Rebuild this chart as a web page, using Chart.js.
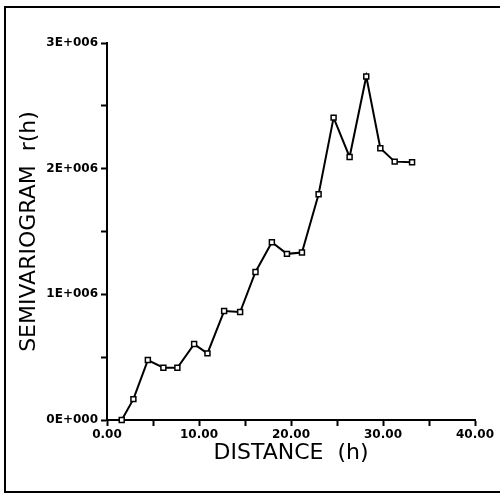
<!DOCTYPE html>
<html>
<head>
<meta charset="utf-8">
<script src="https://cdn.jsdelivr.net/npm/chart.js@4"></script>
<style>
  html, body { margin: 0; padding: 0; background: #fff; }
  canvas { display: block; }
</style>
</head>
<body>
<canvas id="semivariogram" width="500" height="496"></canvas>
<script>
// lag distances (h) and semivariogram values r(h)
const distances = [1.60, 2.87, 4.44, 6.13, 7.65, 9.47, 10.92, 12.73, 14.47, 16.14,
  17.92, 19.56, 21.19, 23.00, 24.63, 26.37, 28.18, 29.71, 31.27, 33.16];
const gammaValues = [0, 166000, 477000, 416000, 416000, 604000, 530000, 867000, 859000, 1178000,
  1415000, 1322000, 1333000, 1796000, 2406000, 2093000, 2734000, 2162000, 2056000, 2051000];

const xTitle = 'DISTANCE  (h)';
const yTitle = 'SEMIVARIOGRAM  r(h)';

const points = distances.map((d, i) => ({ x: d, y: gammaValues[i] }));

// scanned page frame (top, left, bottom edges)
const framePlugin = {
  id: 'frame',
  beforeDraw(chart) {
    const c = chart.ctx;
    c.save();
    c.fillStyle = '#fff';
    c.fillRect(0, 0, chart.width, chart.height);
    c.strokeStyle = '#000';
    c.lineWidth = 2;
    c.beginPath();
    c.moveTo(500, 7);
    c.lineTo(5, 7);
    c.lineTo(5, 492);
    c.lineTo(500, 492);
    c.stroke();
    c.restore();
  }
};

function yLabel(v) {
  if (v % 1000000 !== 0) return '';
  return (v / 1000000) + (v === 0 ? 'E+000' : 'E+006');
}

function xLabel(v) {
  if (v % 10 !== 0) return '';
  return v.toFixed(2);
}

const tickFont = { family: 'DejaVu Sans', size: 12, weight: 'bold' };
const titleFont = { family: 'DejaVu Sans', size: 22, weight: 'normal' };

new Chart(document.getElementById('semivariogram'), {
  type: 'line',
  data: {
    datasets: [{
      data: points,
      borderColor: '#000',
      borderWidth: 2,
      tension: 0,
      pointStyle: 'rect',
      pointRadius: 3.5,
      pointBackgroundColor: '#fff',
      pointBorderColor: '#000',
      pointBorderWidth: 1.5,
      clip: false
    }]
  },
  options: {
    responsive: false,
    animation: false,
    layout: { padding: { top: 43, right: 25, left: 0, bottom: 0 } },
    plugins: { legend: { display: false }, tooltip: { enabled: false } },
    scales: {
      x: {
        type: 'linear',
        min: 0,
        max: 40,
        afterFit(scale) { scale.height = 76; },
        border: { color: '#000', width: 2 },
        grid: { drawOnChartArea: false, drawTicks: true, tickLength: 6, tickColor: '#000', tickWidth: 2 },
        ticks: { stepSize: 5, color: '#000', font: tickFont, padding: 2, maxRotation: 0, autoSkip: false, callback: xLabel },
        title: { display: true, text: xTitle, color: '#000', font: titleFont, padding: { top: 30, bottom: 30 } }
      },
      y: {
        min: 0,
        max: 3000000,
        afterFit(scale) { scale.width = 107; },
        border: { color: '#000', width: 2 },
        grid: { drawOnChartArea: false, drawTicks: true, tickLength: 6, tickColor: '#000', tickWidth: 2 },
        ticks: { stepSize: 500000, color: '#000', font: tickFont, padding: 3, autoSkip: false, callback: yLabel },
        title: { display: true, text: yTitle, color: '#000', font: titleFont, padding: { top: 16, bottom: 16 } }
      }
    }
  },
  plugins: [framePlugin]
});
</script>
</body>
</html>
